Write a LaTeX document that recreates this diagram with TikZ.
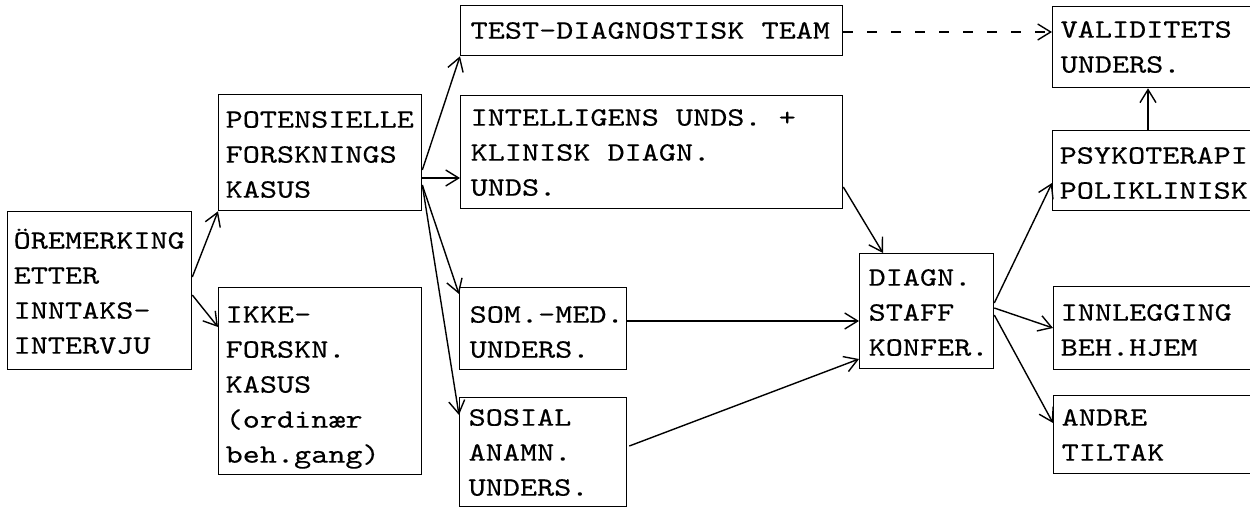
\documentclass[tikz,border=0pt]{standalone}
\usepackage{fontspec}
\newfontfamily\tw[FakeStretch=1.23,FakeBold=0.3]{lmmono10-regular.otf}
\usetikzlibrary{arrows.meta,calc}
\newcommand\fl{\rule{0pt}{24pt}}
\begin{document}
\begin{tikzpicture}[x=1pt,y=-1pt,line width=1.3pt,
  box/.style={draw,anchor=north west,inner sep=0pt},
  lbl/.style={anchor=north west,inner sep=0pt,align=left,font=\tw\fontsize{26.5}{35}\selectfont},
  arr/.style={-{Straight Barb[length=13pt,width=16pt]},line width=1.4pt},
  darr/.style={arr,dash pattern=on 10pt off 14pt}]
\useasboundingbox (0,0) rectangle (1250,508);
\fill[white] (0,0) rectangle (1250,508);
\clip (0,0) rectangle (1250,508);
% boxes
\node[box,minimum width=184pt,minimum height=158pt] (A) at (7,211) {};
\node[box,minimum width=203pt,minimum height=116pt] (B) at (218,94) {};
\node[box,minimum width=203pt,minimum height=187pt] (C) at (218,287) {};
\node[box,minimum width=382pt,minimum height=50pt] (D) at (460,5) {};
\node[box,minimum width=382pt,minimum height=113pt] (E) at (460,95) {};
\node[box,minimum width=167pt,minimum height=82pt] (F) at (459,287) {};
\node[box,minimum width=167pt,minimum height=109pt] (G) at (459,397) {};
\node[box,minimum width=134pt,minimum height=115pt] (H) at (859,253) {};
\node[box,minimum width=215pt,minimum height=81pt] (I) at (1052,6) {};
\node[box,minimum width=215pt,minimum height=80pt] (J) at (1052,130) {};
\node[box,minimum width=215pt,minimum height=83pt] (K) at (1053,286) {};
\node[box,minimum width=215pt,minimum height=78pt] (L) at (1053,395) {};
% labels
\node[lbl] (At) at ($(A.north west)+(6,13)$) {\fl ÖREMERKING\\ETTER\\INNTAKS-\\INTERVJU};
\node[lbl] (Bt) at ($(B.north west)+(7,9)$) {\fl POTENSIELLE\\FORSKNINGS\\KASUS};
\node[lbl] (Ct) at ($(C.north west)+(7,11)$) {\fl IKKE-\\FORSKN.\\KASUS\\(ordinær\\beh.gang)};
\node[lbl] (Dt) at ($(D.north west)+(10,9)$) {\fl TEST-DIAGNOSTISK TEAM};
\node[lbl] (Et) at ($(E.north west)+(10,6)$) {\fl INTELLIGENS UNDS. +\\KLINISK DIAGN.\\UNDS.};
\node[lbl] (Ft) at ($(F.north west)+(10,11)$) {\fl SOM.-MED.\\UNDERS.};
\node[lbl] (Gt) at ($(G.north west)+(9,4)$) {\fl SOSIAL\\ANAMN.\\UNDERS.};
\node[lbl] (Ht) at ($(H.north west)+(9,8)$) {\fl DIAGN.\\STAFF\\KONFER.};
\node[lbl] (It) at ($(I.north west)+(8,7)$) {\fl VALIDITETS\\UNDERS.};
\node[lbl] (Jt) at ($(J.north west)+(7,9)$) {\fl PSYKOTERAPI\\POLIKLINISK};
\node[lbl] (Kt) at ($(K.north west)+(7,10)$) {\fl INNLEGGING\\BEH.HJEM};
\node[lbl] (Lt) at ($(L.north west)+(8,6)$) {\fl ANDRE\\TILTAK};
% connectors
\draw[arr] ($(A.north east)+(0,66)$) -- (B.south west);
\draw[arr] ($(A.north east)+(0,84)$) -- ($(C.north west)+(0,40)$);
\draw[arr] ($(B.north east)+(0,76)$) -- (D.south west);
\draw[arr] ($(B.north east)+(0,84)$) -- ($(E.north west)+(0,83)$);
\draw[arr] ($(B.north east)+(0,91)$) -- ($(F.north west)+(0,7)$);
\draw[arr] ($(B.north east)+(0,91)$) -- ($(G.north west)+(0,18)$);
\draw[arr] ($(E.north east)+(0,92)$) -- ($(H.north west)+(24,0)$);
\draw[arr] ($(F.north east)+(0,34)$) -- ($(H.north west)+(0,68)$);
\draw[arr] ($(G.north east)+(2,49)$) -- ($(H.north west)+(0,106)$);
\draw[arr] ($(H.north east)+(0,50)$) -- ($(J.north west)+(0,53)$);
\draw[arr] ($(H.north east)+(0,55)$) -- ($(K.north west)+(0,42)$);
\draw[arr] ($(H.north east)+(0,62)$) -- ($(L.north west)+(0,28)$);
\draw[arr] ($(J.north west)+(96,0)$) -- ($(I.south west)+(96,0)$);
\draw[darr] ($(D.north east)+(0,27)$) -- ($(I.north west)+(0,26)$);
\end{tikzpicture}
\end{document}
